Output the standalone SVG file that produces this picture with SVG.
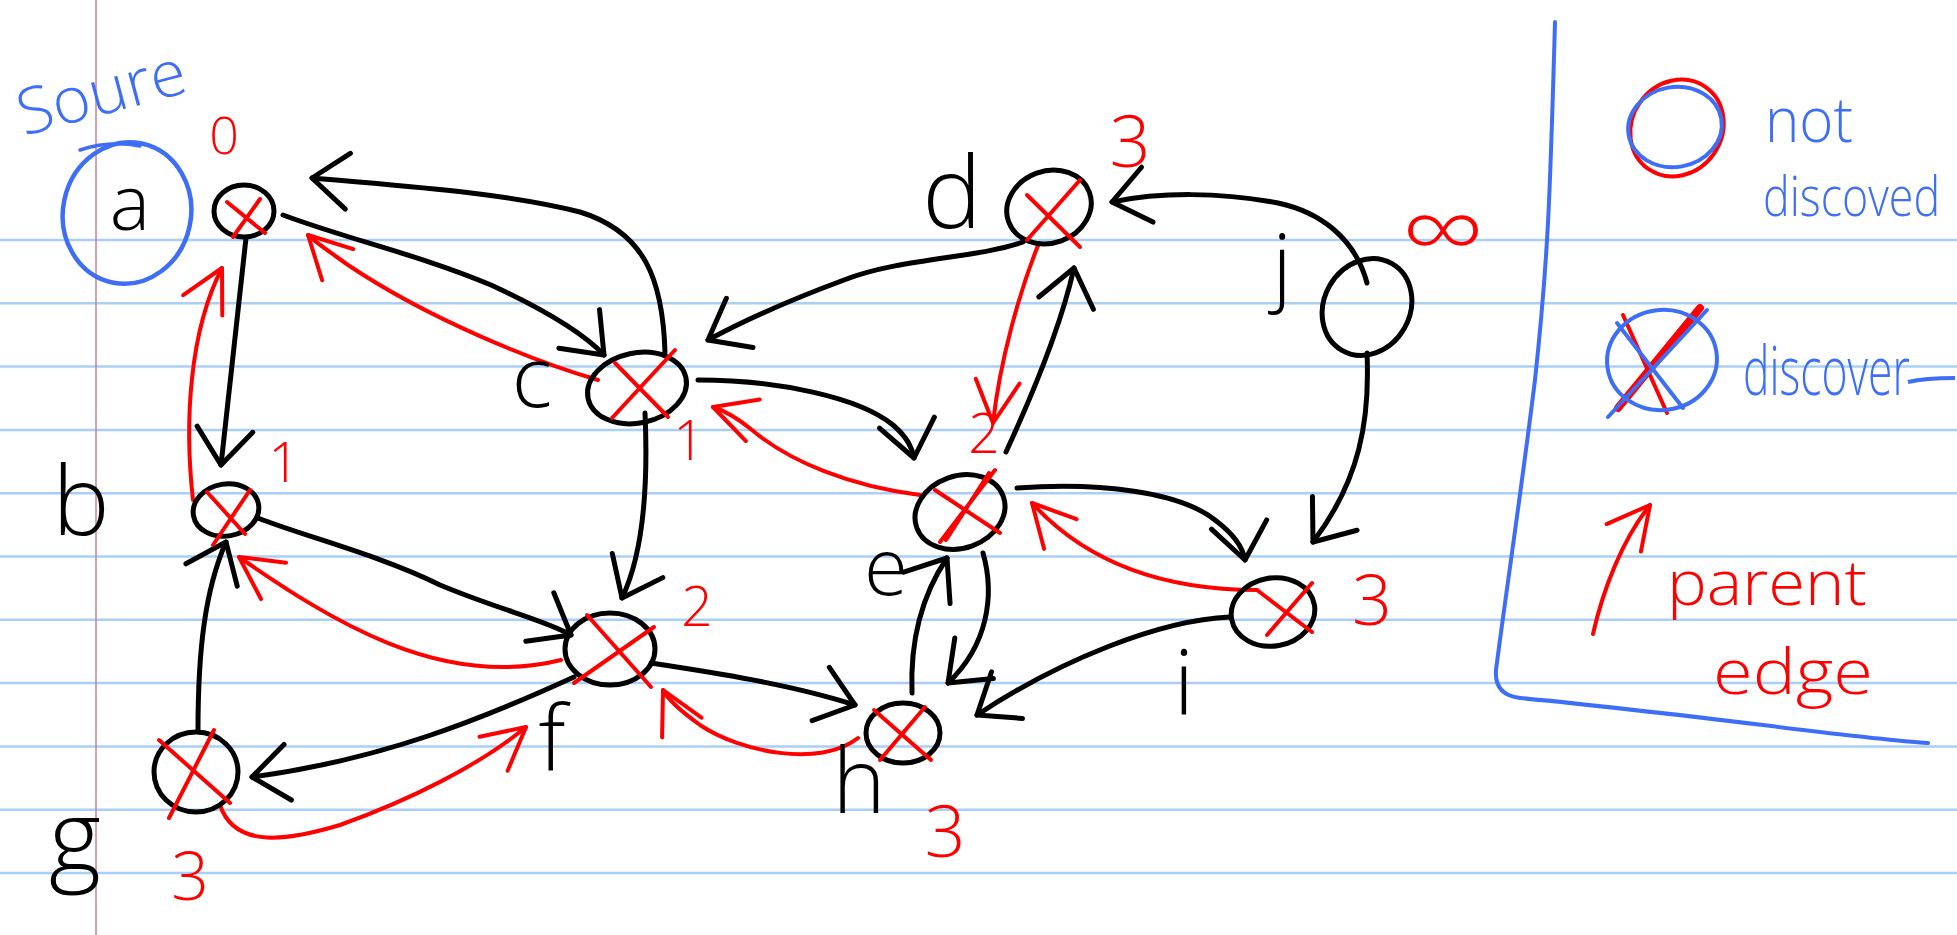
<svg xmlns="http://www.w3.org/2000/svg" width="1957" height="935" viewBox="0 0 1957 935">
<defs>
<style>
.rule{stroke:#a9cff6;stroke-width:2.5}
.node{fill:none;stroke:#000;stroke-width:5}
.x{fill:none;stroke:#ff0000;stroke-width:4;stroke-linecap:round}
.lbl{font-family:"Open Sans","Liberation Sans",Arial,sans-serif;font-weight:300;fill:#000;text-anchor:middle}
.num{font-family:"Open Sans","Liberation Sans",Arial,sans-serif;font-weight:300;fill:#ff0000;text-anchor:middle}
.blu{font-family:"Open Sans","Liberation Sans",Arial,sans-serif;font-weight:300;fill:#3d6ef5}
.red{font-family:"Open Sans","Liberation Sans",Arial,sans-serif;font-weight:300;fill:#ff0000}
.e{fill:none;stroke:#000;stroke-width:5;stroke-linecap:round;marker-end:url(#ab)}
.p{fill:none;stroke:#ff0000;stroke-width:4;stroke-linecap:round;marker-end:url(#ar)}
</style>
<marker id="ab" viewBox="-50 -40 60 80" markerWidth="60" markerHeight="80" refX="0" refY="0" orient="auto" markerUnits="userSpaceOnUse" overflow="visible">
<path d="M-36,-28 L0,0 L-36,28" fill="none" stroke="#000" stroke-width="5" stroke-linecap="round" stroke-linejoin="round"/>
</marker>
<marker id="ar" viewBox="-50 -40 60 80" markerWidth="60" markerHeight="80" refX="0" refY="0" orient="auto" markerUnits="userSpaceOnUse" overflow="visible">
<path d="M-42,-22 L0,0 L-42,22" fill="none" stroke="#ff0000" stroke-width="4" stroke-linecap="round" stroke-linejoin="round"/>
</marker>
</defs>
<rect width="1957" height="935" fill="#fff"/>
<g id="paper">
<line class="rule" x1="0" y1="240" x2="1957" y2="240"/>
<line class="rule" x1="0" y1="303.3" x2="1957" y2="303.3"/>
<line class="rule" x1="0" y1="366.6" x2="1957" y2="366.6"/>
<line class="rule" x1="0" y1="429.9" x2="1957" y2="429.9"/>
<line class="rule" x1="0" y1="493.2" x2="1957" y2="493.2"/>
<line class="rule" x1="0" y1="556.5" x2="1957" y2="556.5"/>
<line class="rule" x1="0" y1="619.8" x2="1957" y2="619.8"/>
<line class="rule" x1="0" y1="683.1" x2="1957" y2="683.1"/>
<line class="rule" x1="0" y1="746.4" x2="1957" y2="746.4"/>
<line class="rule" x1="0" y1="809.7" x2="1957" y2="809.7"/>
<line class="rule" x1="0" y1="873" x2="1957" y2="873"/>
<line x1="96" y1="0" x2="96" y2="935" stroke="#c48296" stroke-width="1.5"/>
</g>
<g id="source-marker">
<text class="blu" x="24" y="136" font-size="64" textLength="172" lengthAdjust="spacingAndGlyphs" transform="rotate(-15 24 136)">Soure</text>
<ellipse cx="127" cy="213" rx="64" ry="71" transform="rotate(12 127 213)" fill="none" stroke="#3d6ef5" stroke-width="4.5"/>
<path d="M80,150 Q110,140 140,146" fill="none" stroke="#3d6ef5" stroke-width="3.5" stroke-linecap="round"/>
</g>
<g id="connectors">
<path class="e" d="M665,353 C663,280 645,232 580,212 C500,192 400,186 312,178"/>
<path class="e" d="M283,215 C350,240 420,255 491,285 C545,310 585,335 604,355"/>
<path class="e" d="M246,238 L221,465"/>
<path class="e" d="M258,518 C300,535 380,555 440,585 C500,610 545,620 571,635"/>
<path class="e" d="M645,413 C648,480 645,550 622,598"/>
<path class="e" d="M198,730 C198,650 205,590 226,542"/>
<path class="e" d="M574,677 C480,720 380,760 252,777"/>
<path class="e" d="M651,663 C710,672 790,684 855,705"/>
<path class="e" d="M1023,242 C980,258 900,258 844,280 C790,300 745,320 708,340"/>
<path class="e" d="M1006,452 C1030,400 1060,330 1074,268"/>
<path class="e" d="M698,380 C780,380 860,398 893,425 C908,438 912,448 914,458"/>
<path class="e" d="M1017,488 C1100,482 1180,492 1215,520 C1235,535 1243,548 1245,560"/>
<path class="e" d="M983,553 C995,595 988,645 948,683"/>
<path class="e" d="M912,693 C910,640 922,595 947,558"/>
<path class="e" d="M1230,617 C1160,620 1060,660 977,715"/>
<path class="e" d="M1367,283 C1355,238 1320,212 1278,203 C1220,192 1160,192 1112,202"/>
<path class="e" d="M1367,353 C1370,420 1360,480 1313,542"/>
<path class="p" d="M598,380 C536,362 430,320 348,265 C330,252 315,242 308,235"/>
<path class="p" d="M193,500 C184,420 190,330 222,268"/>
<path class="p" d="M561,660 C440,690 330,620 239,557"/>
<path class="p" d="M220,805 C235,850 290,840 340,825 C410,800 480,765 526,727"/>
<path class="p" d="M858,738 C820,768 740,752 700,725 C682,712 668,700 663,690"/>
<path class="p" d="M920,495 C850,486 790,462 752,430 C735,416 722,410 713,407"/>
<path class="p" d="M1039,243 C1020,290 1000,360 993,423"/>
<path class="p" d="M1257,590 C1180,590 1095,572 1032,503"/>
</g>
<g id="node-a">
<ellipse class="node" cx="244" cy="211" rx="30" ry="26"/>
<path class="x" d="M227,202 L265,233 M260,199 L233,237"/>
<text class="lbl" x="130" y="230" font-size="76">a</text>
<text class="num" x="224" y="154" font-size="52">0</text>
</g>
<g id="node-b">
<ellipse class="node" cx="226" cy="510" rx="33" ry="26" transform="rotate(-10 226 510)"/>
<path class="x" d="M207,492 L245,534 M250,490 L213,545"/>
<text class="lbl" x="81" y="535" font-size="96">b</text>
<text class="num" x="284" y="482" font-size="55">1</text>
</g>
<g id="node-c">
<ellipse class="node" cx="637" cy="388" rx="50" ry="35" transform="rotate(-12 637 388)"/>
<path class="x" d="M615,363 L668,417 M675,350 L612,418"/>
<text class="lbl" x="532" y="407" font-size="85">c</text>
<text class="num" x="689" y="460" font-size="55">1</text>
</g>
<g id="node-d">
<ellipse class="node" cx="1049" cy="207" rx="43" ry="36" transform="rotate(-20 1049 207)"/>
<path class="x" d="M1027,195 L1080,247 M1080,180 L1027,240"/>
<text class="lbl" x="952" y="228" font-size="100">d</text>
<text class="num" x="1130" y="167" font-size="72">3</text>
</g>
<g id="node-e">
<ellipse class="node" cx="960" cy="512" rx="46" ry="36" transform="rotate(-20 960 512)"/>
<path class="x" d="M935,490 L1000,533 M995,470 L940,542 M989,473 L946,540"/>
<text class="lbl" x="886" y="595" font-size="80">e</text>
<text class="num" x="984" y="453" font-size="55">2</text>
</g>
<g id="node-f">
<ellipse class="node" cx="610" cy="649" rx="45" ry="36"/>
<path class="x" d="M587,615 L651,687 M654,627 L574,683"/>
<text class="lbl" x="552" y="770" font-size="90">f</text>
<text class="num" x="697" y="626" font-size="55">2</text>
</g>
<g id="node-g">
<ellipse class="node" cx="196" cy="772" rx="42" ry="40"/>
<path class="x" d="M159,740 L230,803 M214,730 L169,818"/>
<text class="lbl" x="75" y="872" font-size="100">g</text>
<text class="num" x="190" y="900" font-size="66">3</text>
</g>
<g id="node-h">
<ellipse class="node" cx="903" cy="733" rx="37" ry="30"/>
<path class="x" d="M874,710 L931,760 M925,707 L880,760"/>
<text class="lbl" x="859" y="813" font-size="90">h</text>
<text class="num" x="945" y="857" font-size="72">3</text>
</g>
<g id="node-i">
<ellipse class="node" cx="1273" cy="612" rx="42" ry="34" transform="rotate(-10 1273 612)"/>
<path class="x" d="M1257,590 L1312,632 M1312,583 L1267,635"/>
<text class="lbl" x="1184" y="715" font-size="90">i</text>
<text class="num" x="1372" y="625" font-size="70">3</text>
</g>
<g id="node-j">
<ellipse class="node" cx="1367" cy="307" rx="50" ry="43" transform="rotate(-60 1367 307)"/>
<text class="lbl" x="1282" y="295" font-size="85">j</text>
<text class="num" x="1443" y="266" font-size="100" textLength="82" lengthAdjust="spacingAndGlyphs">∞</text>
</g>
<g id="legend">
<path d="M1555,22 C1550,200 1548,260 1535,380 C1520,500 1505,600 1496,670 Q1494,695 1520,698 C1700,715 1850,738 1928,743" fill="none" stroke="#3d6ef5" stroke-width="4" stroke-linecap="round"/>
<ellipse cx="1677" cy="128" rx="50" ry="45" transform="rotate(-55 1677 128)" fill="none" stroke="#ff0000" stroke-width="4"/>
<ellipse cx="1675" cy="127" rx="47" ry="40" transform="rotate(-10 1675 127)" fill="none" stroke="#3d6ef5" stroke-width="4"/>
<text class="blu" x="1765" y="142" font-size="63" textLength="88" lengthAdjust="spacingAndGlyphs">not</text>
<text class="blu" font-size="56" transform="translate(1763 216) scale(0.8 1)">discoved</text>
<path d="M1618,408 L1700,308" stroke="#ff0000" stroke-width="8" stroke-linecap="round"/>
<path d="M1623,315 L1667,413" stroke="#ff0000" stroke-width="4" stroke-linecap="round"/>
<ellipse cx="1662" cy="360" rx="55" ry="50" transform="rotate(-8 1662 360)" fill="none" stroke="#3d6ef5" stroke-width="4"/>
<path d="M1608,417 L1707,310 M1617,323 L1683,408" fill="none" stroke="#3d6ef5" stroke-width="4" stroke-linecap="round"/>
<text class="blu" font-size="68" transform="translate(1743 395) scale(0.655 1)">discover</text>
<path d="M1908,382 C1925,378 1945,378 1955,378" fill="none" stroke="#3d6ef5" stroke-width="4"/>
<path class="p" d="M1593,634 C1603,590 1622,540 1650,505"/>
<text class="red" x="1667" y="605" font-size="62" textLength="200" lengthAdjust="spacingAndGlyphs">parent</text>
<text class="red" x="1713" y="694" font-size="62" textLength="160" lengthAdjust="spacingAndGlyphs">edge</text>
</g>
</svg>
